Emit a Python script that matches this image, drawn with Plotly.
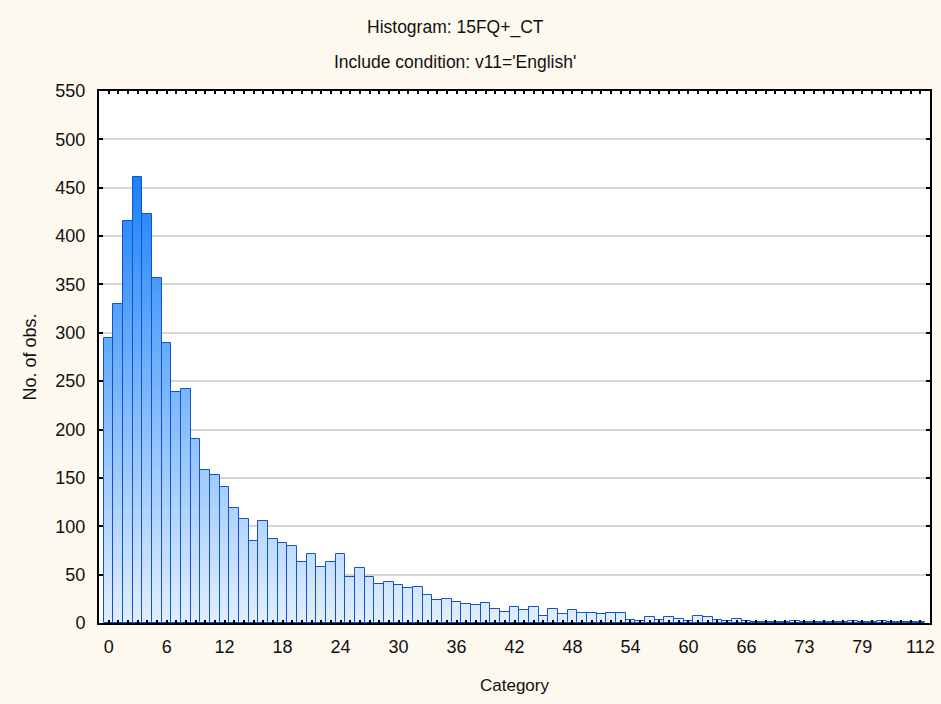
import numpy as np
import plotly.graph_objects as go

# ---- data ----
categories = list(range(0, 67)) + [67, 68, 69, 70, 72, 73] + [74, 75, 76, 77, 78, 79] + [80, 81, 83, 86, 95, 112]
counts = [295, 330, 416, 461, 423, 357, 289, 239, 242, 190, 158, 153, 141, 119, 108, 85, 105, 87, 83, 80,
          63, 71, 58, 63, 71, 48, 57, 48, 40, 42, 39, 36, 37, 29, 24, 25, 22, 20, 19, 21,
          14, 11, 17, 13, 17, 7, 14, 9, 13, 10, 10, 9, 10, 10, 3, 2, 6, 3, 6, 4,
          2, 7, 6, 3, 2, 4, 2, 1, 1, 1, 1, 2, 1, 1, 1, 1, 1, 2, 1, 1, 2, 1, 1, 1, 1]
label_every = 6
title_line1 = "Histogram: 15FQ+_CT"
title_line2 = "Include condition: v11='English'"
x_title = "Category"
y_title = "No. of obs."

FONT = "Liberation Sans, Arial, sans-serif"
W, H = 941, 704
ML, MR, MT, MB = 99, 11, 91, 81

idx = np.arange(len(categories))
vals = np.array(counts, dtype=float)

light = np.array([226, 239, 253])
dark = np.array([22, 128, 250])
top_level = 470.0
step = 2.5

fig = go.Figure()

# vertical gradient by overlaid bars (highest band first)
n_levels = int(np.ceil(vals.max() / step))
for k in range(n_levels - 1, -1, -1):
    lo = k * step
    hi = (k + 1) * step
    y = np.where(vals > lo, np.minimum(vals, hi), 0.0)
    t = min(1.0, (lo + step / 2) / top_level)
    c = light + (dark - light) * t
    col = "rgb(%d,%d,%d)" % tuple(np.round(c).astype(int))
    fig.add_trace(go.Bar(x=idx, y=y, width=1.0, marker=dict(color=col, line=dict(width=0)),
                         hoverinfo="skip", showlegend=False))

# outlines
fig.add_trace(go.Bar(x=idx, y=vals, width=1.0,
                     marker=dict(color="rgba(0,0,0,0)", line=dict(color="#1450d0", width=1)),
                     customdata=categories, hovertemplate="%{customdata}: %{y}<extra></extra>",
                     showlegend=False))

tickvals = list(idx[::label_every])
ticktext = [str(categories[i]) for i in tickvals]

plot_w = W - ML - MR
plot_h = H - MT - MB


def px_to_paper(px, py):
    return (px - ML) / plot_w, (H - MB - py) / plot_h


ax1, ay1 = px_to_paper(455, 28)
ax2, ay2 = px_to_paper(455, 62)

fig.update_layout(
    width=W, height=H,
    barmode="overlay", bargap=0,
    paper_bgcolor="#fdf9ef", plot_bgcolor="white",
    margin=dict(l=ML, r=MR, t=MT, b=MB, autoexpand=False),
    font=dict(family=FONT, size=16, color="#111"),
    annotations=[
        dict(text=title_line1, x=ax1, y=ay1, xref="paper", yref="paper", showarrow=False,
             xanchor="center", yanchor="middle", font=dict(size=17.5)),
        dict(text=title_line2, x=ax2, y=ay2, xref="paper", yref="paper", showarrow=False,
             xanchor="center", yanchor="middle", font=dict(size=17.5)),
    ],
)

fig.update_xaxes(
    range=[-1, 85], tickmode="array", tickvals=tickvals, ticktext=ticktext,
    ticks="inside", ticklen=3, tickwidth=1.5, tickcolor="black",
    minor=dict(dtick=1, tick0=0, ticks="inside", ticklen=3, tickwidth=1.5, tickcolor="black"),
    showline=True, linecolor="black", linewidth=2, mirror="allticks",
    showgrid=False, zeroline=False, automargin=False,
    title=dict(text=x_title, font=dict(size=17), standoff=24),
    tickfont=dict(size=18), ticklabelstandoff=6,
)
fig.update_yaxes(
    range=[0, 550], dtick=50, tick0=0,
    ticks="inside", ticklen=4, tickwidth=1.5, tickcolor="black",
    showline=True, linecolor="black", linewidth=2, mirror="allticks",
    showgrid=True, gridcolor="#d6d6d6", gridwidth=1.5, zeroline=False, automargin=False,
    title=dict(text=y_title, font=dict(size=18), standoff=14),
    tickfont=dict(size=18), ticklabelstandoff=8,
)

fig.write_html("out.html", config={"displayModeBar": False},
               post_script="document.body.style.margin='0';document.body.style.background='#fdf9ef';")
